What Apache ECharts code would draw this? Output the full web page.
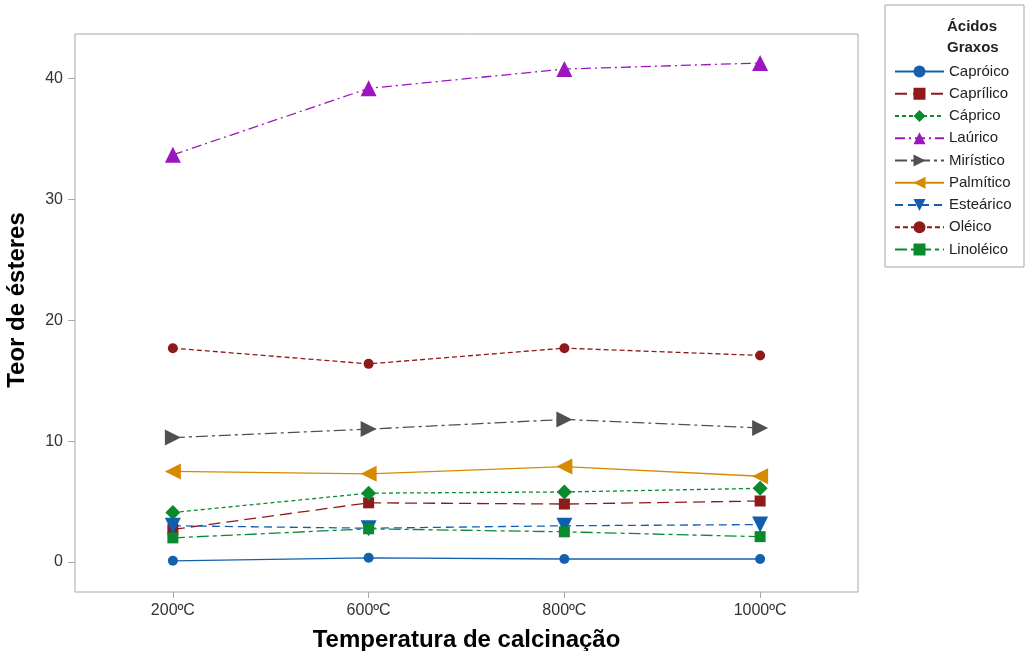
<!DOCTYPE html>
<html>
<head>
<meta charset="utf-8">
<script src="https://cdn.jsdelivr.net/npm/echarts@6/dist/echarts.min.js"></script>
<style>
  html, body { margin: 0; padding: 0; background: #fff; }
  #chart { width: 1026px; height: 651px; }
</style>
</head>
<body>
<div id="chart"></div>
<script>
// categorias (temperatura de calcinação)
const temperaturas = ["200ºC", "600ºC", "800ºC", "1000ºC"];
const yTicks = [0, 10, 20, 30, 40];

// teor de ésteres por ácido graxo
const caproico = [0.1, 0.35, 0.25, 0.25];
const caprilico = [2.7, 4.9, 4.8, 5.05];
const caprico = [4.1, 5.7, 5.8, 6.1];
const laurico = [33.7, 39.2, 40.8, 41.3];
const miristico = [10.3, 11.0, 11.8, 11.1];
const palmitico = [7.5, 7.3, 7.9, 7.1];
const estearico = [3.0, 2.8, 3.0, 3.1];
const oleico = [17.7, 16.4, 17.7, 17.1];
const linoleico = [2.0, 2.75, 2.5, 2.1];

const chart = echarts.init(document.getElementById("chart"));

// helper para montar cada série
const mk = (name, data, color, dash, symbol, size, rotate) => ({
  name,
  type: "line",
  data,
  symbol,
  symbolSize: size,
  symbolRotate: rotate || 0,
  lineStyle: { color, width: 1.3, type: dash },
  itemStyle: { color },
  emphasis: { disabled: true },
  animation: false,
});

const option = {
  backgroundColor: "#fff",
  grid: {
    left: 75,
    top: 34,
    width: 783,
    height: 558,
    outerBoundsMode: "none",
    containLabel: false,
    show: true,
    borderColor: "#a8a8a8",
    borderWidth: 1,
  },
  xAxis: {
    type: "category",
    data: temperaturas,
    boundaryGap: true,
    name: "Temperatura de calcinação",
    nameLocation: "middle",
    nameGap: 36,
    nameTextStyle: {
      fontFamily: "Liberation Sans",
      fontWeight: "bold",
      fontSize: 24,
      color: "#000",
    },
    axisLine: { show: false, onZero: false },
    axisTick: { show: true, alignWithLabel: true, length: 6, lineStyle: { color: "#a8a8a8" } },
    axisLabel: { fontFamily: "Liberation Sans", fontSize: 16, color: "#333", margin: 11 },
    splitLine: { show: false },
  },
  yAxis: {
    type: "value",
    min: -2.48,
    max: 43.7,
    axisLine: { show: false, onZero: false },
    axisTick: { show: true, length: 7, customValues: yTicks, lineStyle: { color: "#a8a8a8" } },
    axisLabel: { fontFamily: "Liberation Sans", fontSize: 16, color: "#333", margin: 12, customValues: yTicks },
    splitLine: { show: false },
  },
  legend: {
    orient: "vertical",
    left: 889,
    top: 59,
    itemWidth: 49,
    itemHeight: 15,
    itemGap: 7.25,
    textStyle: { fontFamily: "Liberation Sans", fontSize: 15, color: "#222" },
    selectedMode: false,
  },
  graphic: [
    {
      type: "rect",
      shape: { x: 885, y: 5, width: 139, height: 262 },
      style: { fill: "none", stroke: "#a8a8a8", lineWidth: 1 },
      silent: true,
    },
    {
      type: "text",
      left: 947,
      top: 16,
      style: {
        text: "Ácidos\nGraxos",
        fontFamily: "Liberation Sans",
        fontWeight: "bold",
        fontSize: 15,
        lineHeight: 21,
        fill: "#222",
      },
    },
    {
      // título do eixo Y
      type: "text",
      x: 17,
      y: 300,
      rotation: Math.PI / 2,
      style: {
        text: "Teor de ésteres",
        fontFamily: "Liberation Sans",
        fontWeight: "bold",
        fontSize: 24,
        fill: "#000",
        align: "center",
        verticalAlign: "middle",
      },
    },
  ],
  series: [
    mk("Capróico", caproico, "#1560ad", "solid", "circle", 10),
    mk("Caprílico", caprilico, "#8e1a1a", [12, 6], "rect", 11),
    mk("Cáprico", caprico, "#0a8a2e", [4, 3], "diamond", 15),
    mk("Laúrico", laurico, "#9b16be", [10, 4, 2, 4], "triangle", 16),
    mk("Mirístico", miristico, "#505050", [12, 4, 3, 4], "triangle", 16, -90),
    mk("Palmítico", palmitico, "#d68a00", "solid", "triangle", 16, 90),
    mk("Esteárico", estearico, "#0f5fae", [8, 5], "triangle", 16, 180),
    mk("Oléico", oleico, "#8e1a1a", [5, 3], "circle", 10),
    mk("Linoléico", linoleico, "#0a8a2e", [12, 4, 4, 4], "rect", 11),
  ],
};

chart.setOption(option);
</script>
</body>
</html>
